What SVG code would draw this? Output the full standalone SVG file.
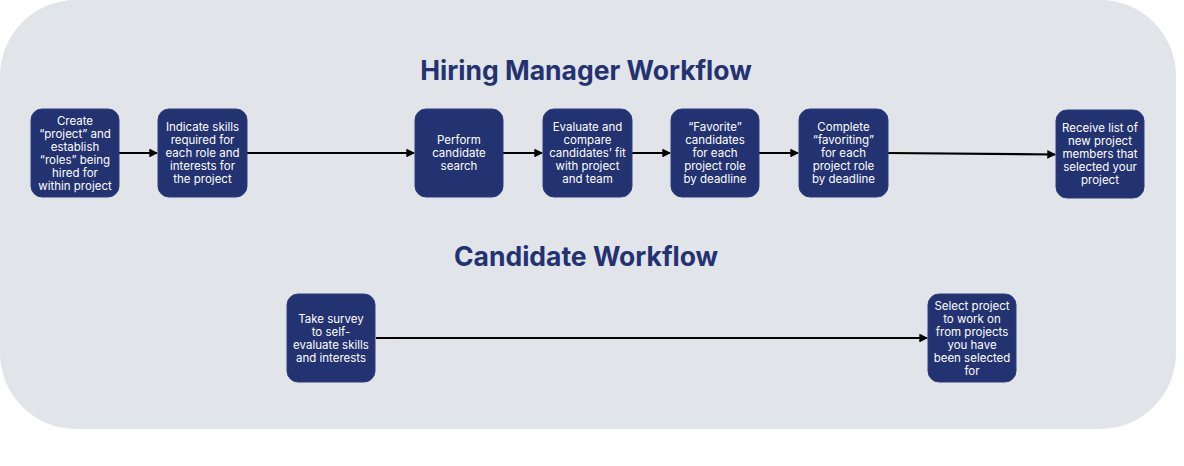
<svg xmlns="http://www.w3.org/2000/svg" width="1184" height="466" viewBox="0 0 1184 466">
<style>
.bg{fill:#e1e4e9}
.node rect{fill:#233270;stroke:#2e3d7c;stroke-width:1}
.node text{fill:#ffffff;font-family:Inter,"Liberation Sans",sans-serif;font-size:11.5px;text-anchor:middle}
.title{fill:#233270;font-family:Inter,"Liberation Sans",sans-serif;font-weight:700;font-size:26.5px;text-anchor:middle}
.conn line{stroke:#000;stroke-width:2.2;fill:none}
</style>
<defs>
<marker id="arr" viewBox="0 0 8 8" refX="7" refY="4" markerWidth="4" markerHeight="4" orient="auto" markerUnits="strokeWidth">
<path d="M0,0 L8,4 L0,8 z" fill="#000"/>
</marker>
</defs>
<rect class="bg" x="0" y="0" width="1176" height="429" rx="76" ry="76"/>
<text class="title" x="586" y="80">Hiring Manager Workflow</text>
<text class="title" x="586" y="266">Candidate Workflow</text>
<g class="conn">
<line x1="119" y1="153" x2="157" y2="153" marker-end="url(#arr)"/>
<line x1="247" y1="153" x2="414" y2="153" marker-end="url(#arr)"/>
<line x1="503" y1="153" x2="542" y2="153" marker-end="url(#arr)"/>
<line x1="632" y1="153" x2="670" y2="153" marker-end="url(#arr)"/>
<line x1="759" y1="153" x2="798" y2="153" marker-end="url(#arr)"/>
<line x1="888" y1="153" x2="1055" y2="154.5" marker-end="url(#arr)"/>
<line x1="376" y1="338" x2="927" y2="338" marker-end="url(#arr)"/>
</g>
<g id="n1" class="node"><rect x="31" y="109" width="88" height="88" rx="11"/>
<text><tspan x="75" y="124.5">Create</tspan><tspan x="75" y="137.5">“project” and</tspan><tspan x="75" y="150.5">establish</tspan><tspan x="75" y="163.5">“roles” being</tspan><tspan x="75" y="176.5">hired for</tspan><tspan x="75" y="189.5">within project</tspan></text></g>
<g id="n2" class="node"><rect x="158" y="109" width="89" height="88" rx="11"/>
<text><tspan x="202.5" y="131">Indicate skills</tspan><tspan x="202.5" y="144">required for</tspan><tspan x="202.5" y="157">each role and</tspan><tspan x="202.5" y="170">interests for</tspan><tspan x="202.5" y="183">the project</tspan></text></g>
<g id="n3" class="node"><rect x="415" y="109" width="88" height="88" rx="11"/>
<text><tspan x="459" y="144">Perform</tspan><tspan x="459" y="157">candidate</tspan><tspan x="459" y="170">search</tspan></text></g>
<g id="n4" class="node"><rect x="543" y="109" width="89" height="88" rx="11"/>
<text><tspan x="587.5" y="131">Evaluate and</tspan><tspan x="587.5" y="144">compare</tspan><tspan x="587.5" y="157">candidates’ fit</tspan><tspan x="587.5" y="170">with project</tspan><tspan x="587.5" y="183">and team</tspan></text></g>
<g id="n5" class="node"><rect x="671" y="109" width="88" height="88" rx="11"/>
<text><tspan x="715" y="131">“Favorite”</tspan><tspan x="715" y="144">candidates</tspan><tspan x="715" y="157">for each</tspan><tspan x="715" y="170">project role</tspan><tspan x="715" y="183">by deadline</tspan></text></g>
<g id="n6" class="node"><rect x="799" y="109" width="89" height="88" rx="11"/>
<text><tspan x="843.5" y="131">Complete</tspan><tspan x="843.5" y="144">“favoriting”</tspan><tspan x="843.5" y="157">for each</tspan><tspan x="843.5" y="170">project role</tspan><tspan x="843.5" y="183">by deadline</tspan></text></g>
<g id="n7" class="node"><rect x="1056" y="110" width="88" height="88" rx="11"/>
<text><tspan x="1100" y="132">Receive list of</tspan><tspan x="1100" y="145">new project</tspan><tspan x="1100" y="158">members that</tspan><tspan x="1100" y="171">selected your</tspan><tspan x="1100" y="184">project</tspan></text></g>
<g id="c1" class="node"><rect x="287" y="294" width="88" height="88" rx="11"/>
<text><tspan x="331" y="322.5">Take survey</tspan><tspan x="331" y="335.5">to self-</tspan><tspan x="331" y="348.5">evaluate skills</tspan><tspan x="331" y="361.5">and interests</tspan></text></g>
<g id="c2" class="node"><rect x="928" y="294" width="88" height="88" rx="11"/>
<text><tspan x="972" y="309.5">Select project</tspan><tspan x="972" y="322.5">to work on</tspan><tspan x="972" y="335.5">from projects</tspan><tspan x="972" y="348.5">you have</tspan><tspan x="972" y="361.5">been selected</tspan><tspan x="972" y="374.5">for</tspan></text></g>
</svg>
